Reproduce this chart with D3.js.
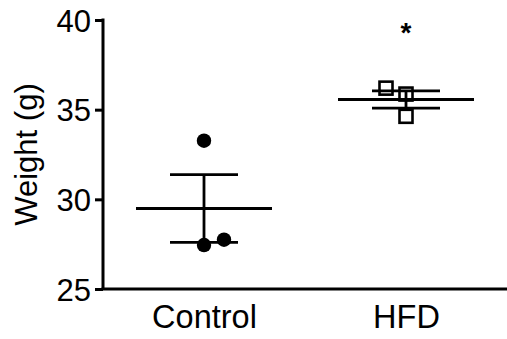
<!DOCTYPE html>
<html><head><meta charset="utf-8">
<script src="https://cdn.jsdelivr.net/npm/d3@7"></script>
<style>body{margin:0;background:#fff}svg{display:block}text{font-family:"Liberation Sans",Arial,sans-serif}</style>
</head><body>
<svg id="c" width="507" height="339"></svg>
<script>
const categories = ["Control", "HFD"];
const controlValues = [33.27, 27.45, 27.75];
const hfdValues = [36.2, 35.87, 34.63];
const controlJitter = [0, 0, 1];
const hfdJitter = [-1, 0, 0];
const yTicks = [25, 30, 35, 40];
const yLabel = "Weight (g)";
const significance = ["", "*"];

const svg = d3.select("#c");
const W = 507, H = 339;
const m = {l: 103, r: 0, t: 20, b: 50};
const x = d3.scalePoint().domain(categories).range([m.l, W]).padding(0.5);
const y = d3.scaleLinear().domain([25, 40]).range([H - m.b, m.t]);

// y axis
const ya = svg.append("g").attr("transform", `translate(${m.l},0)`)
  .call(d3.axisLeft(y).tickValues(yTicks).tickSize(8).tickPadding(4).tickFormat(d3.format("d")));
ya.select(".domain").attr("stroke-width", 3).attr("d", `M0,${y(40)-1.5}V${y(25)}`);
ya.selectAll(".tick line").attr("stroke-width", 3);
ya.selectAll(".tick text").attr("font-size", 31).attr("fill", "#000").attr("dy", "0.36em")
  .attr("font-family", '"Liberation Sans",Arial,sans-serif');

// x axis
const xa = svg.append("g").attr("transform", `translate(0,${y(25)})`)
  .call(d3.axisBottom(x).tickSize(0).tickPadding(16));
xa.select(".domain").attr("stroke-width", 3).attr("d", `M${m.l-1.5},0H${W}`);
xa.selectAll(".tick text").attr("font-size", 32.5).attr("fill", "#000").attr("dy", "0.71em")
  .attr("font-family", '"Liberation Sans",Arial,sans-serif');

// y label
svg.append("text").attr("transform", `translate(37,${(y(25)+y(40))/2}) rotate(-90)`)
  .attr("text-anchor", "middle").attr("font-size", 31).text(yLabel);

const groups = [
  {cat: categories[0], vals: controlValues, jit: controlJitter, shape: "circle"},
  {cat: categories[1], vals: hfdValues, jit: hfdJitter, shape: "square"}
];
const jStep = 20;
groups.forEach((g, gi) => {
  const cx = x(g.cat);
  const mean = d3.mean(g.vals);
  const sem = d3.deviation(g.vals) / Math.sqrt(g.vals.length);
  const gg = svg.append("g").attr("stroke", "#000").attr("stroke-width", 2.8);
  gg.append("line").attr("x1", cx - 68).attr("x2", cx + 68).attr("y1", y(mean)).attr("y2", y(mean));
  gg.append("line").attr("x1", cx - 34).attr("x2", cx + 34).attr("y1", y(mean + sem)).attr("y2", y(mean + sem));
  gg.append("line").attr("x1", cx - 34).attr("x2", cx + 34).attr("y1", y(mean - sem)).attr("y2", y(mean - sem));
  gg.append("line").attr("x1", cx).attr("x2", cx).attr("y1", y(mean + sem)).attr("y2", y(mean - sem));
  g.vals.forEach((v, i) => {
    const px = cx + g.jit[i] * jStep, py = y(v);
    if (g.shape === "circle") {
      svg.append("circle").attr("cx", px).attr("cy", py).attr("r", 7.2).attr("fill", "#000");
    } else {
      svg.append("rect").attr("x", px - 6.5).attr("y", py - 6.5).attr("width", 13).attr("height", 13)
        .attr("fill", "none").attr("stroke", "#000").attr("stroke-width", 2.6);
    }
  });
  if (significance[gi]) {
    svg.append("text").attr("x", cx).attr("y", 42).attr("text-anchor", "middle")
      .attr("font-size", 28).attr("font-weight", "bold").text(significance[gi]);
  }
});
</script>
</body></html>
